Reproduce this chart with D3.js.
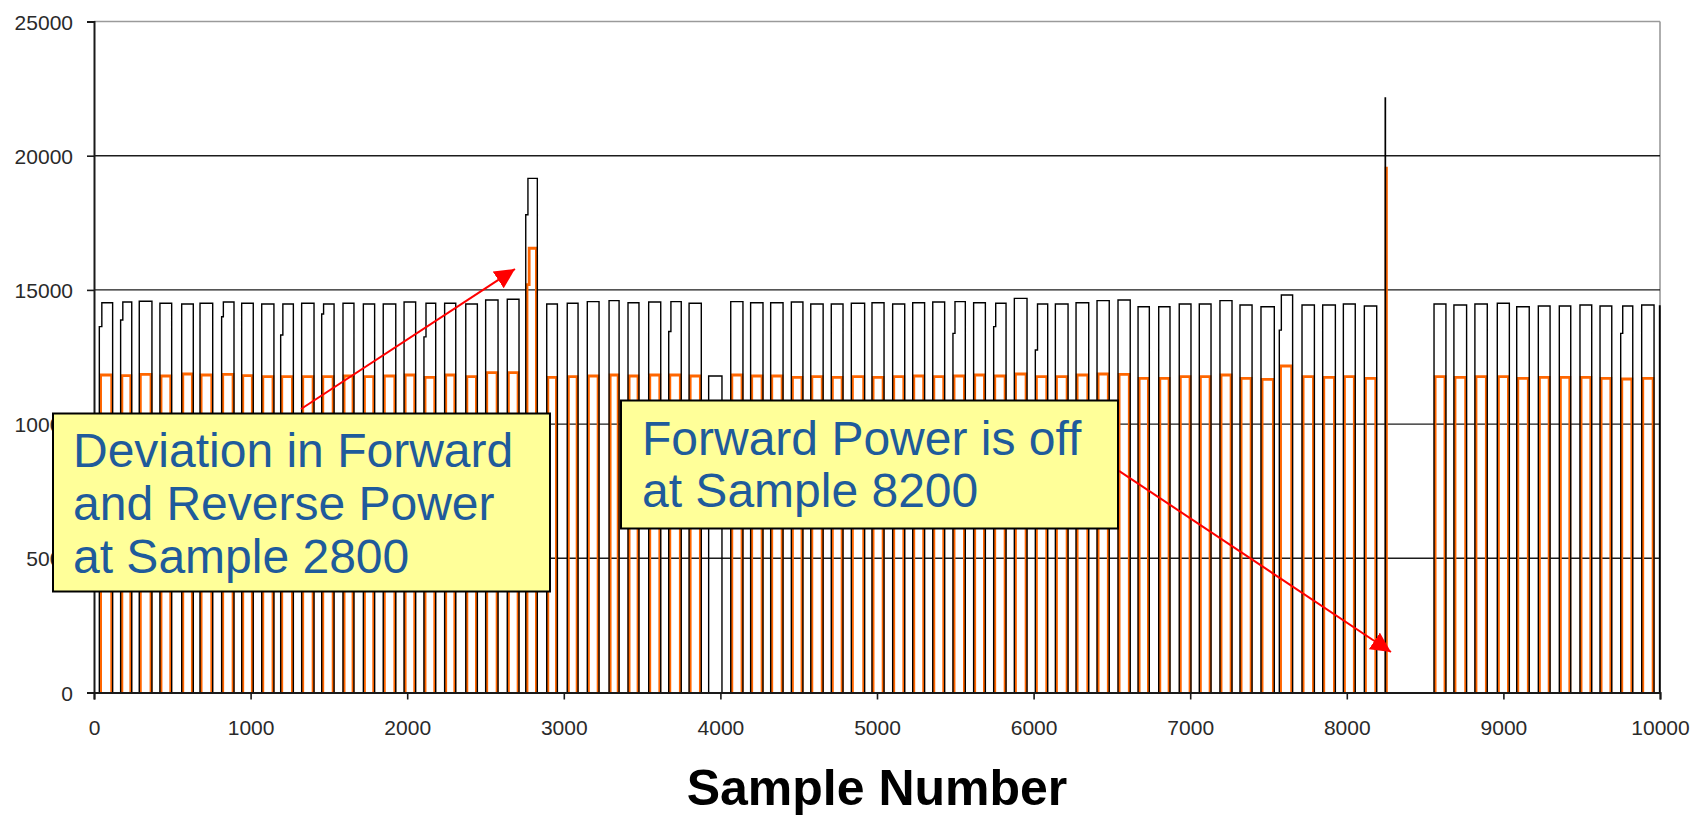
<!DOCTYPE html>
<html>
<head>
<meta charset="utf-8">
<script src="https://cdn.jsdelivr.net/npm/d3@7"></script>
<style>
  body { margin: 0; background: #ffffff; }
  svg text { font-family: "Liberation Sans", Arial, Helvetica, sans-serif; }
</style>
</head>
<body>
<svg id="chart" width="1702" height="817"></svg>
<script>
// ---- Axis ticks ----
const xTicks = [0, 1000, 2000, 3000, 4000, 5000, 6000, 7000, 8000, 9000, 10000];
const yTicks = [0, 5000, 10000, 15000, 20000, 25000];
const xTitle = "Sample Number";

// ---- Forward power pulses (black): start sample, end sample, level ----
const fwdOn = [34, 170, 289, 421, 560, 677, 815, 943, 1071, 1192, 1326, 1454, 1590, 1720, 1847, 1980, 2107, 2239, 2374, 2501,
  2639, 2757, 2891, 3022, 3150, 3289, 3410, 3542, 3670, 3800, 3925, 4066, 4193, 4321, 4453, 4577, 4708, 4836, 4968, 5100,
  5228, 5356, 5485, 5617, 5745, 5877, 6011, 6139, 6271, 6405, 6539, 6667, 6799, 6930, 7058, 7190, 7318, 7452, 7569, 7714,
  7846, 7978, 8112, 8245, 8557, 8684, 8818, 8961, 9085, 9223, 9357, 9489, 9617, 9749, 9883, 9997];
const fwdOff = [119, 241, 370, 496, 634, 758, 894, 1017, 1149, 1273, 1405, 1533, 1660, 1792, 1927, 2054, 2182, 2310, 2448, 2580,
  2714, 2831, 2959, 3091, 3225, 3353, 3480, 3619, 3750, 3878, 4010, 4144, 4272, 4400, 4527, 4656, 4783, 4921, 5045, 5177,
  5304, 5432, 5564, 5692, 5824, 5958, 6090, 6220, 6352, 6483, 6617, 6739, 6871, 7005, 7133, 7267, 7395, 7537, 7654, 7793,
  7927, 8054, 8191, 8247, 8633, 8765, 8897, 9038, 9165, 9298, 9430, 9564, 9692, 9826, 9962, 10000];
const fwdLevel = [14524, 14550, 14575, 14500, 14475, 14500, 14550, 14500, 14475, 14475, 14500, 14475, 14500, 14475, 14475, 14550, 14500, 14500, 14475, 14624,
  14649, 19157, 14475, 14500, 14562, 14599, 14524, 14550, 14562, 14500, 11790, 14562, 14524, 14524, 14550, 14475, 14475, 14500, 14524, 14475,
  14524, 14550, 14562, 14524, 14500, 14686, 14475, 14475, 14524, 14599, 14624, 14375, 14375, 14475, 14475, 14599, 14437, 14375, 14810, 14437,
  14437, 14475, 14400, 22150, 14475, 14437, 14475, 14500, 14375, 14400, 14400, 14437, 14400, 14400, 14437, 14400];

// Forward pulses that rise in two stages: pulse index, first-stage level, sample where full level is reached
const fwdStepPulse = [0, 1, 6, 9, 11, 16, 21, 28, 42, 44, 46, 58, 73];
const fwdStepLevel = [13630, 13880, 14000, 13320, 14100, 13250, 17800, 13450, 13380, 13630, 12760, 13500, 13380];
const fwdStepEnd = [50, 184, 826, 1206, 1466, 2120, 2771, 3684, 5498, 5758, 6025, 7582, 9762];

// ---- Reverse power pulses (orange) ----
const revOn = [42, 178, 296, 428, 567, 684, 822, 950, 1078, 1199, 1333, 1461, 1597, 1727, 1854, 1987, 2114, 2246, 2381, 2508,
  2646, 2765, 2898, 3029, 3157, 3296, 3417, 3549, 3677, 3807, 3932, 4073, 4200, 4328, 4460, 4584, 4715, 4843, 4975, 5107,
  5235, 5363, 5492, 5624, 5752, 5884, 6018, 6146, 6278, 6412, 6546, 6674, 6806, 6937, 7065, 7197, 7325, 7459, 7577, 7721,
  7853, 7985, 8119, 8251, 8564, 8691, 8825, 8968, 9092, 9230, 9364, 9496, 9624, 9756, 9890, 9999];
const revOff = [113, 235, 364, 490, 628, 752, 888, 1011, 1143, 1267, 1399, 1527, 1654, 1786, 1921, 2048, 2176, 2304, 2442, 2574,
  2708, 2825, 2953, 3085, 3219, 3347, 3474, 3613, 3744, 3872, 4004, 4138, 4266, 4394, 4521, 4650, 4777, 4915, 5039, 5171,
  5298, 5426, 5558, 5686, 5818, 5952, 6084, 6214, 6346, 6477, 6611, 6733, 6865, 6999, 7127, 7261, 7389, 7531, 7648, 7787,
  7921, 8048, 8185, 8253, 8627, 8759, 8891, 9032, 9159, 9292, 9424, 9558, 9686, 9820, 9956, 10000];
const revLevel = [11829, 11805, 11854, 11792, 11867, 11829, 11854, 11805, 11767, 11767, 11767, 11767, 11792, 11767, 11792, 11829, 11742, 11829, 11767, 11916,
  11916, 16552, 11742, 11767, 11792, 11829, 11792, 11829, 11829, 11792, 0, 11829, 11792, 11792, 11742, 11767, 11742, 11767, 11742, 11767,
  11792, 11767, 11792, 11829, 11792, 11867, 11767, 11767, 11829, 11867, 11854, 11705, 11705, 11767, 11767, 11829, 11705, 11668, 12165, 11767,
  11742, 11767, 11705, 19540, 11767, 11742, 11767, 11767, 11705, 11742, 11742, 11742, 11705, 11680, 11705, 0];

const revStepPulse = [21];
const revStepLevel = [15200];
const revStepEnd = [2779];

// ---- Callouts: text lines and arrow tail/tip in data units ----
const note1Lines = ["Deviation in Forward", "and Reverse Power", "at Sample 2800"];
const note1Arrow = [[1322, 10563], [2688, 15779]];
const note2Lines = ["Forward Power is off", "at Sample 8200"];
const note2Arrow = [[6545, 8259], [8282, 1509]];

// ---- Layout ----
const W = 1702, H = 817;
const plot = { left: 94, right: 1660, top: 21.5, bottom: 692.5 };

const svg = d3.select("#chart");
svg.append("rect").attr("width", W).attr("height", H).attr("fill", "#ffffff");

const x = d3.scaleLinear().domain([0, 10000]).range([plot.left, plot.right]);
const y = d3.scaleLinear().domain([0, 25000]).range([plot.bottom, plot.top]);

// Plot-area frame (top and right edges in grey) and horizontal gridlines
svg.append("line")
  .attr("x1", plot.left).attr("x2", plot.right)
  .attr("y1", y(25000)).attr("y2", y(25000))
  .attr("stroke", "#9a9a9a").attr("stroke-width", 1.6);
svg.append("line")
  .attr("x1", plot.right).attr("x2", plot.right)
  .attr("y1", y(25000)).attr("y2", y(0))
  .attr("stroke", "#9a9a9a").attr("stroke-width", 1.6);
svg.append("g").selectAll("line")
  .data(yTicks.filter(v => v > 0 && v < 25000))
  .join("line")
  .attr("x1", plot.left).attr("x2", plot.right)
  .attr("y1", d => y(d)).attr("y2", d => y(d))
  .attr("stroke", "#1c1c1c").attr("stroke-width", 1.4);

// Build one sub-path per pulse: rise, optional first stage, flat top, fall
function pulsePath(on, off, level, stepPulse, stepLevel, stepEnd) {
  const p = d3.path();
  on.forEach((s, i) => {
    if (!level[i]) return;
    p.moveTo(x(s), y(0));
    const k = stepPulse.indexOf(i);
    let topStart = s;
    if (k >= 0) {
      p.lineTo(x(s), y(stepLevel[k]));
      p.lineTo(x(stepEnd[k]), y(stepLevel[k]));
      topStart = stepEnd[k];
    }
    p.lineTo(x(topStart), y(level[i]));
    p.lineTo(x(off[i]), y(level[i]));
    p.lineTo(x(off[i]), y(0));
  });
  return p.toString();
}

svg.append("defs").append("clipPath").attr("id", "plotClip")
  .append("rect")
  .attr("x", plot.left).attr("y", plot.top - 2)
  .attr("width", plot.right - plot.left + 2).attr("height", plot.bottom - plot.top + 2);

const series = svg.append("g").attr("clip-path", "url(#plotClip)");
series.append("path")
  .attr("d", pulsePath(revOn, revOff, revLevel, revStepPulse, revStepLevel, revStepEnd))
  .attr("fill", "none").attr("stroke", "#ff6600").attr("stroke-width", 2.8)
  .attr("stroke-linejoin", "miter");
series.append("path")
  .attr("d", pulsePath(fwdOn, fwdOff, fwdLevel, fwdStepPulse, fwdStepLevel, fwdStepEnd))
  .attr("fill", "none").attr("stroke", "#000000").attr("stroke-width", 1.4)
  .attr("stroke-linejoin", "miter");

// Axes
const yAxis = d3.axisLeft(y).tickValues(yTicks).tickSize(7).tickPadding(14).tickFormat(d3.format("d"));
const xAxis = d3.axisBottom(x).tickValues(xTicks).tickSize(7).tickPadding(21).tickFormat(d3.format("d"));

const gy = svg.append("g").attr("transform", `translate(${plot.left},0)`).call(yAxis);
const gx = svg.append("g").attr("transform", `translate(0,${plot.bottom})`).call(xAxis);
[gx, gy].forEach(g => {
  g.select(".domain").attr("stroke", "#1a1a1a").attr("stroke-width", 2);
  g.selectAll(".tick line").attr("stroke", "#1a1a1a").attr("stroke-width", 1.6);
  g.selectAll(".tick text")
    .attr("font-size", 21).attr("fill", "#2a2a2a")
    .attr("font-family", "'Liberation Sans', Arial, sans-serif");
});
gy.selectAll(".tick text").attr("dy", "0.36em");

// Axis title
svg.append("text")
  .attr("x", (plot.left + plot.right) / 2).attr("y", 805)
  .attr("text-anchor", "middle")
  .attr("font-size", 50).attr("font-weight", "bold").attr("fill", "#000")
  .text(xTitle);

// Callout arrows
const defs = svg.select("defs");
defs.append("marker")
  .attr("id", "redHead").attr("viewBox", "0 0 10 10")
  .attr("refX", 10).attr("refY", 5)
  .attr("markerWidth", 20).attr("markerHeight", 20)
  .attr("markerUnits", "userSpaceOnUse").attr("orient", "auto")
  .append("path").attr("d", "M0,0 L10,5 L0,10 Z").attr("fill", "#ff0000");

[note1Arrow, note2Arrow].forEach(a => {
  svg.append("line")
    .attr("x1", x(a[0][0])).attr("y1", y(a[0][1]))
    .attr("x2", x(a[1][0])).attr("y2", y(a[1][1]))
    .attr("stroke", "#ff0000").attr("stroke-width", 2)
    .attr("marker-end", "url(#redHead)");
});

// Callout boxes
function callout(bx, by, bw, bh, lines, tx, firstBaseline, lineGap) {
  const g = svg.append("g");
  g.append("rect")
    .attr("x", bx).attr("y", by).attr("width", bw).attr("height", bh)
    .attr("fill", "#ffff99").attr("stroke", "#000").attr("stroke-width", 2);
  g.selectAll("text").data(lines).join("text")
    .attr("x", tx).attr("y", (d, i) => firstBaseline + i * lineGap)
    .attr("font-size", 48).attr("fill", "#1f5b9b")
    .text(d => d);
}
callout(53, 413.5, 497, 178, note1Lines, 73, 467, 53);
callout(621, 400.5, 497, 128, note2Lines, 642, 455, 52);
</script>
</body>
</html>
